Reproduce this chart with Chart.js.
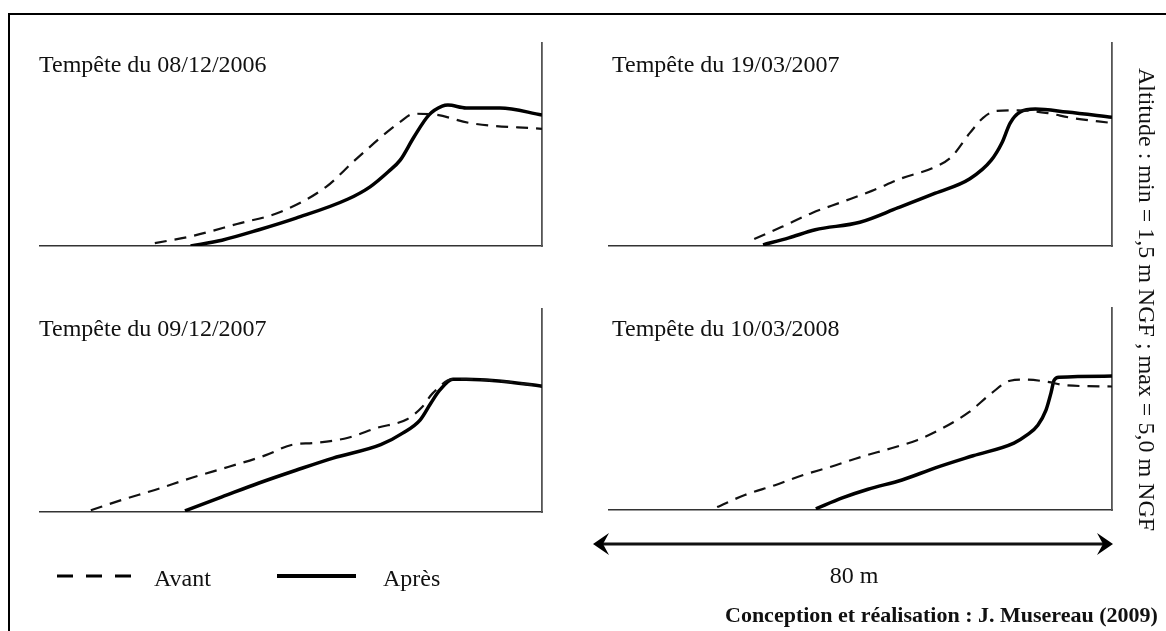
<!DOCTYPE html>
<html lang="fr">
<head>
<meta charset="utf-8">
<title>Profils de plage avant / après tempête</title>
<script src="https://cdn.jsdelivr.net/npm/chart.js@4.4.1/dist/chart.umd.min.js"></script>
<style>
  html, body { margin: 0; padding: 0; background: #fff; }
  #page { position: relative; width: 1166px; height: 631px; overflow: hidden; background: #fff; }
  #page canvas { position: absolute; }
  #overlay { position: absolute; left: 0; top: 0; pointer-events: none; }
  #overlay text { font-family: "Liberation Serif", "DejaVu Serif", serif; fill: #111; }
</style>
</head>
<body>
<div id="page">
  <canvas id="p1" width="510" height="211" style="left:36px;top:39px"></canvas>
  <canvas id="p2" width="511" height="211" style="left:605px;top:39px"></canvas>
  <canvas id="p3" width="510" height="211" style="left:36px;top:305px"></canvas>
  <canvas id="p4" width="511" height="210" style="left:605px;top:304px"></canvas>

  <svg id="overlay" width="1166" height="631">
    <!-- cadre -->
    <path d="M9,640 V14 H1180" fill="none" stroke="#000" stroke-width="2"/>

    <text x="39" y="72" font-size="24">Tempête du 08/12/2006</text>
    <text x="612" y="72" font-size="24">Tempête du 19/03/2007</text>
    <text x="39" y="336" font-size="24">Tempête du 09/12/2007</text>
    <text x="612" y="336" font-size="24">Tempête du 10/03/2008</text>

    <text transform="translate(1139,68) rotate(90)" font-size="24">Altitude : min = 1,5 m NGF ; max = 5,0 m NGF</text>

    <!-- légende -->
    <line x1="57" y1="576" x2="131" y2="576" stroke="#000" stroke-width="3" stroke-dasharray="16 13"/>
    <text x="154" y="586" font-size="24">Avant</text>
    <line x1="277" y1="576" x2="356" y2="576" stroke="#000" stroke-width="4"/>
    <text x="383" y="586" font-size="24">Après</text>

    <!-- échelle horizontale -->
    <line x1="603" y1="544" x2="1103" y2="544" stroke="#111" stroke-width="3"/>
    <path d="M593,544 L609,533 L603,544 L609,555 Z" fill="#000"/>
    <path d="M1113,544 L1097,533 L1103,544 L1097,555 Z" fill="#000"/>
    <text x="854" y="583" font-size="24" text-anchor="middle">80 m</text>

    <text x="725" y="622" font-size="22" font-weight="bold">Conception et réalisation : J. Musereau (2009)</text>
  </svg>
</div>

<script>
// distance le long du profil (m) et altitude (m NGF)
const avantDist1 = [18.3, 24.2, 31.4, 38.4, 45.6, 50.2, 57.4, 59.6, 63.3, 68.5, 80];
const avantAlt1  = [1.55, 1.67, 1.88, 2.09, 2.52, 2.98, 3.64, 3.78, 3.76, 3.62, 3.52];
const apresDist1 = [24.0, 29.0, 34.9, 40.8, 49.1, 52.6, 55.5, 57.4, 59.6, 62.0, 64.1, 65.0, 67.9, 73.3, 80];
const apresAlt1  = [1.50, 1.60, 1.78, 1.98, 2.31, 2.52, 2.78, 2.98, 3.38, 3.76, 3.91, 3.93, 3.88, 3.88, 3.76];

const avantDist2 = [23.1, 27.5, 32.3, 37.1, 41.8, 46.6, 51.4, 54.4, 57.4, 59.5, 61.6, 65.1, 69.8, 73.5, 80];
const avantAlt2  = [1.62, 1.83, 2.07, 2.26, 2.45, 2.67, 2.84, 3.03, 3.45, 3.71, 3.83, 3.84, 3.79, 3.71, 3.62];
const apresDist2 = [24.5, 28.6, 32.8, 39.9, 46.0, 51.9, 57.4, 60.8, 62.5, 63.8, 65.4, 67.8, 72.8, 80];
const apresAlt2  = [1.52, 1.64, 1.78, 1.91, 2.16, 2.41, 2.66, 2.98, 3.28, 3.62, 3.81, 3.86, 3.81, 3.72];

const avantDist3 = [8.1, 13.1, 18.3, 24.2, 30.1, 36.0, 40.2, 43.7, 49.1, 53.7, 58.5, 60.9, 62.6, 65.8, 67.9, 73.1, 80];
const avantAlt3  = [1.53, 1.71, 1.88, 2.09, 2.28, 2.48, 2.66, 2.69, 2.78, 2.95, 3.10, 3.31, 3.55, 3.79, 3.79, 3.76, 3.67];
const apresDist3 = [23.1, 29.0, 34.9, 40.8, 46.7, 54.3, 57.8, 60.6, 62.3, 63.7, 65.8, 67.9, 73.1, 80];
const apresAlt3  = [1.52, 1.76, 2.00, 2.22, 2.43, 2.66, 2.86, 3.09, 3.38, 3.60, 3.79, 3.79, 3.76, 3.67];

const avantDist4 = [17.2, 21.6, 26.4, 31.0, 35.3, 40.1, 44.9, 49.0, 53.1, 57.3, 60.9, 63.8, 66.2, 69.8, 72.7, 80];
const avantAlt4  = [1.55, 1.76, 1.93, 2.11, 2.25, 2.42, 2.57, 2.71, 2.92, 3.20, 3.53, 3.74, 3.76, 3.72, 3.66, 3.64];
const apresDist4 = [32.9, 37.1, 41.2, 46.6, 51.9, 57.9, 64.4, 66.5, 68.2, 69.5, 70.3, 70.8, 71.6, 80];
const apresAlt4  = [1.52, 1.71, 1.86, 2.02, 2.23, 2.44, 2.66, 2.80, 2.97, 3.23, 3.53, 3.75, 3.80, 3.82];

// bornes communes
const distMax = 80;
const altMin = 1.5;
const altMax = 5.0;

function points(xs, ys) {
    return xs.map((x, i) => ({ x: x, y: ys[i] }));
}

function profil(id, avant, apres) {
    new Chart(document.getElementById(id), {
        type: "line",
        data: {
            datasets: [{
                label: "Avant",
                data: avant,
                borderColor: "#111",
                borderWidth: 2.2,
                borderDash: [12, 8],
                pointRadius: 0,
                cubicInterpolationMode: "monotone",
                fill: false
            }, {
                label: "Après",
                data: apres,
                borderColor: "#000",
                borderWidth: 3.5,
                pointRadius: 0,
                cubicInterpolationMode: "monotone",
                fill: false
            }]
        },
        options: {
            responsive: false,
            animation: false,
            events: [],
            layout: { padding: 4 },
            plugins: {
                legend: { display: false },
                tooltip: { enabled: false }
            },
            scales: {
                x: {
                    type: "linear",
                    min: 0,
                    max: distMax,
                    ticks: { display: false },
                    grid: { display: false, drawTicks: false },
                    border: { display: true, color: "#333", width: 1.5 }
                },
                y: {
                    position: "right",
                    min: altMin,
                    max: altMax,
                    ticks: { display: false },
                    grid: { display: false, drawTicks: false },
                    border: { display: true, color: "#555", width: 1.8 }
                }
            }
        }
    });
}

profil("p1", points(avantDist1, avantAlt1), points(apresDist1, apresAlt1));
profil("p2", points(avantDist2, avantAlt2), points(apresDist2, apresAlt2));
profil("p3", points(avantDist3, avantAlt3), points(apresDist3, apresAlt3));
profil("p4", points(avantDist4, avantAlt4), points(apresDist4, apresAlt4));
</script>
</body>
</html>
